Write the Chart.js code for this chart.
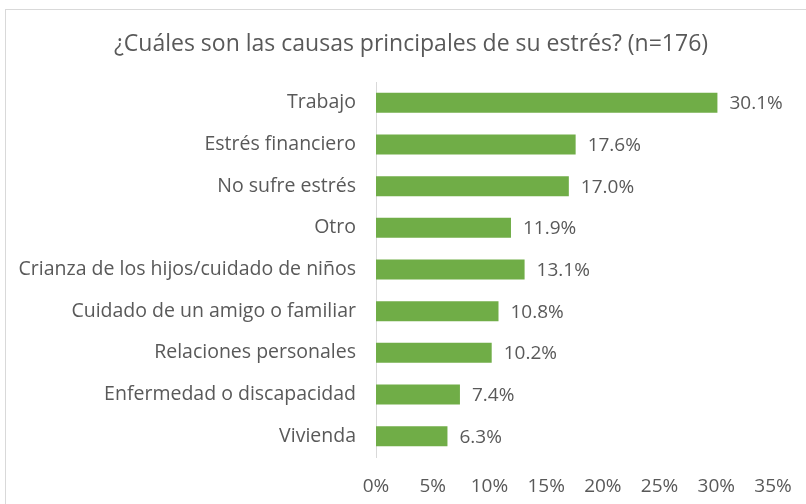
<!DOCTYPE html>
<html>
<head>
<meta charset="utf-8">
<script src="https://cdn.jsdelivr.net/npm/chart.js@4/dist/chart.umd.min.js"></script>
<style>
  html, body { margin: 0; padding: 0; background: #ffffff; }
  #frame { position: absolute; left: 5px; top: 9px; width: 900px; height: 600px; border: 1px solid #d9d9d9; box-sizing: border-box; }
  #wrap { position: absolute; left: 0; top: 0; width: 806px; height: 504px; }
</style>
</head>
<body>
<div id="frame"></div>
<div id="wrap"><canvas id="c" width="806" height="504"></canvas></div>
<script>
const titleText = "¿Cuáles son las causas principales de su estrés? (n=176)";
const categories = [
  "Trabajo",
  "Estrés financiero",
  "No sufre estrés",
  "Otro",
  "Crianza de los hijos/cuidado de niños",
  "Cuidado de un amigo o familiar",
  "Relaciones personales",
  "Enfermedad o discapacidad",
  "Vivienda"
];
const values = [30.1, 17.6, 17.0, 11.9, 13.1, 10.8, 10.2, 7.4, 6.3];
const xTicks = [0, 5, 10, 15, 20, 25, 30, 35];

const FONT = "'Open Sans', 'Noto Sans', sans-serif";
const TEXT = "#595959";

const valueLabels = {
  id: "valueLabels",
  afterDatasetsDraw(chart) {
    const ctx = chart.ctx;
    const meta = chart.getDatasetMeta(0);
    ctx.save();
    ctx.font = "19px " + FONT;
    ctx.fillStyle = TEXT;
    ctx.textAlign = "left";
    ctx.textBaseline = "middle";
    meta.data.forEach((bar, i) => {
      ctx.fillText(values[i].toFixed(1) + "%", bar.x + 12, bar.y + 1);
    });
    ctx.restore();
  }
};

const titleDraw = {
  id: "titleDraw",
  afterDraw(chart) {
    const ctx = chart.ctx;
    ctx.save();
    ctx.font = "23px " + FONT;
    ctx.fillStyle = TEXT;
    ctx.textAlign = "center";
    ctx.textBaseline = "middle";
    ctx.fillText(titleText, 411, 44);
    ctx.restore();
  }
};

new Chart(document.getElementById("c"), {
  type: "bar",
  data: {
    labels: categories,
    datasets: [{
      data: values,
      backgroundColor: "#70ad47",
      borderWidth: 0,
      barPercentage: 0.48,
      categoryPercentage: 1.0
    }]
  },
  options: {
    indexAxis: "y",
    responsive: false,
    animation: false,
    devicePixelRatio: 1,
    layout: { padding: { left: 0, right: 33, top: 82, bottom: 8 } },
    plugins: {
      legend: { display: false },
      tooltip: { enabled: false },
      title: { display: false }
    },
    scales: {
      x: {
        min: 0,
        max: 35,
        afterBuildTicks(scale) { scale.ticks = xTicks.map(v => ({ value: v })); },
        afterFit(scale) { scale.height = 39; scale.paddingRight = 0; scale.paddingLeft = 0; },
        ticks: {
          color: TEXT,
          font: { family: FONT, size: 19 },
          padding: 18,
          callback: (v) => v + "%"
        },
        grid: { display: false, drawTicks: false },
        border: { display: false }
      },
      y: {
        afterFit(scale) { scale.width = 376; },
        ticks: {
          color: TEXT,
          font: { family: FONT, size: 19.5 },
          padding: 20
        },
        grid: { display: false, drawTicks: false },
        border: { display: true, color: "#d9d9d9", width: 1 }
      }
    }
  },
  plugins: [valueLabels, titleDraw]
});
</script>
</body>
</html>
